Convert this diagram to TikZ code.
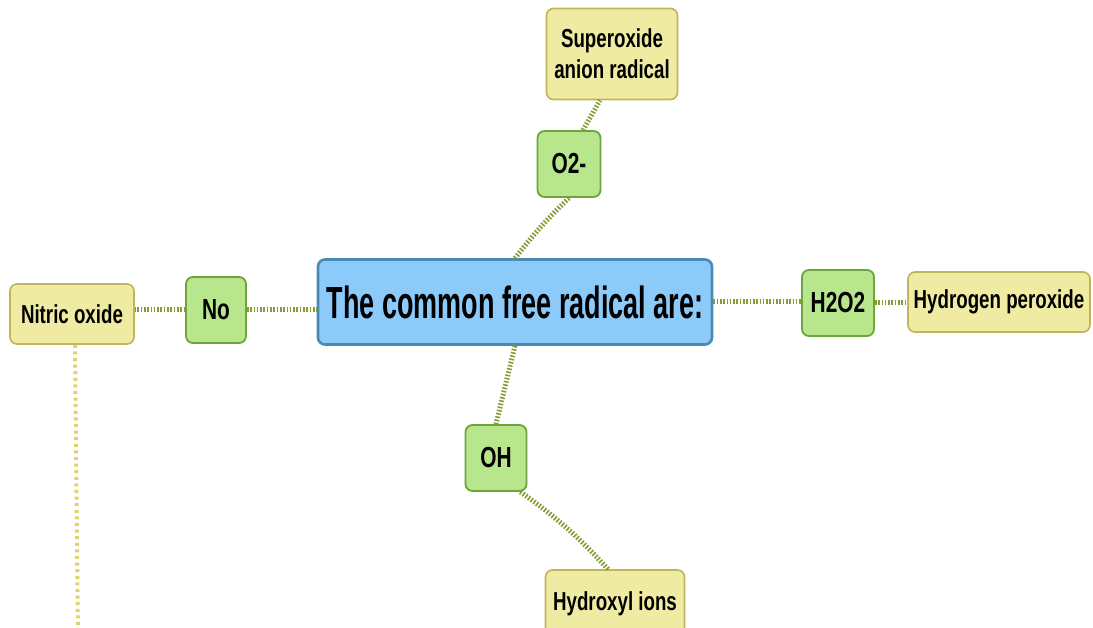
\documentclass[tikz,border=0pt]{standalone}
\usepackage{fontspec}
\usetikzlibrary{positioning}
\newfontfamily\bignarrow[FakeStretch=0.6]{Liberation Sans}
\newfontfamily\smallnarrow[FakeStretch=0.72]{Liberation Sans}
\definecolor{rootblue}{RGB}{140,202,250}
\definecolor{rootedge}{RGB}{72,140,180}
\definecolor{kindgreen}{RGB}{184,230,140}
\definecolor{kindedge}{RGB}{108,165,60}
\definecolor{nameyellow}{RGB}{239,235,162}
\definecolor{nameedge}{RGB}{192,180,92}
\definecolor{linkolive}{RGB}{132,158,52}
\definecolor{linkyellow}{RGB}{222,212,108}

\begin{document}
\begin{tikzpicture}[
    x=1pt, y=-1pt,
    rootbox/.style={rectangle, rounded corners=7pt, draw=rootedge, line width=2.6pt, fill=rootblue,
                 minimum width=394pt, minimum height=85pt, inner sep=0pt,
                 font=\bignarrow\bfseries\fontsize{45}{50}\selectfont},
    kindbox/.style={rectangle, rounded corners=7pt, draw=kindedge, line width=1.8pt, fill=kindgreen,
                 minimum height=66pt, inner sep=0pt, font=\smallnarrow\bfseries\fontsize{29}{30}\selectfont},
    namebox/.style={rectangle, rounded corners=7pt, draw=nameedge, line width=1.6pt, fill=nameyellow,
                 minimum height=60pt, inner sep=0pt, align=center,
                 font=\smallnarrow\bfseries\fontsize{26}{31}\selectfont},
    link/.style={draw=linkolive, line width=5pt, dash pattern=on 1.6pt off 1.7pt},
    trail/.style={draw=linkyellow, line width=4pt, dash pattern=on 3pt off 3.6pt}
]
    \useasboundingbox (0,0) rectangle (1093,628);

    \node[rootbox] (common) at (515,302) {The common free radical are:};

    \node[kindbox, minimum width=60pt] (no) at (216,310) {No};
    \node[kindbox, minimum width=63pt] (otwo) at (569,164) {O2-};
    \node[kindbox, minimum width=72pt] (htwo) at (838,303) {H2O2};
    \node[kindbox, minimum width=61pt] (oh) at (496,458) {OH};

    \node[namebox, minimum width=124pt] (nitric) at (72,314) {Nitric oxide};
    \node[namebox, minimum width=131pt, minimum height=91pt] (super) at (612,54) {Superoxide\\anion radical};
    \node[namebox, minimum width=182pt] (peroxide) at (999,302) {Hydrogen peroxide};
    \node[namebox, minimum width=139pt, minimum height=68pt] (hydroxyl) at (615,604) {Hydroxyl ions};

    \coordinate (nitricend) at (78,640);

    \draw[link] (no.east) -- (no.east -| common.west);
    \draw[link] (no.west) -- (no.west -| nitric.east);
    \draw[link] (common.north) to[bend left=4] (otwo.south);
    \draw[link] ([xshift=14pt]otwo.north) -- ([xshift=-12pt]super.south);
    \draw[link] (common.east) -- (common.east -| htwo.west);
    \draw[link] (htwo.east) -- (htwo.east -| peroxide.west);
    \draw[link] (common.south) -- (oh.north);
    \draw[link] ([xshift=-7pt]oh.south east) to[bend left=6] ([xshift=-7pt]hydroxyl.north);
    \draw[trail] ([xshift=3pt]nitric.south) -- (nitricend);
\end{tikzpicture}
\end{document}
